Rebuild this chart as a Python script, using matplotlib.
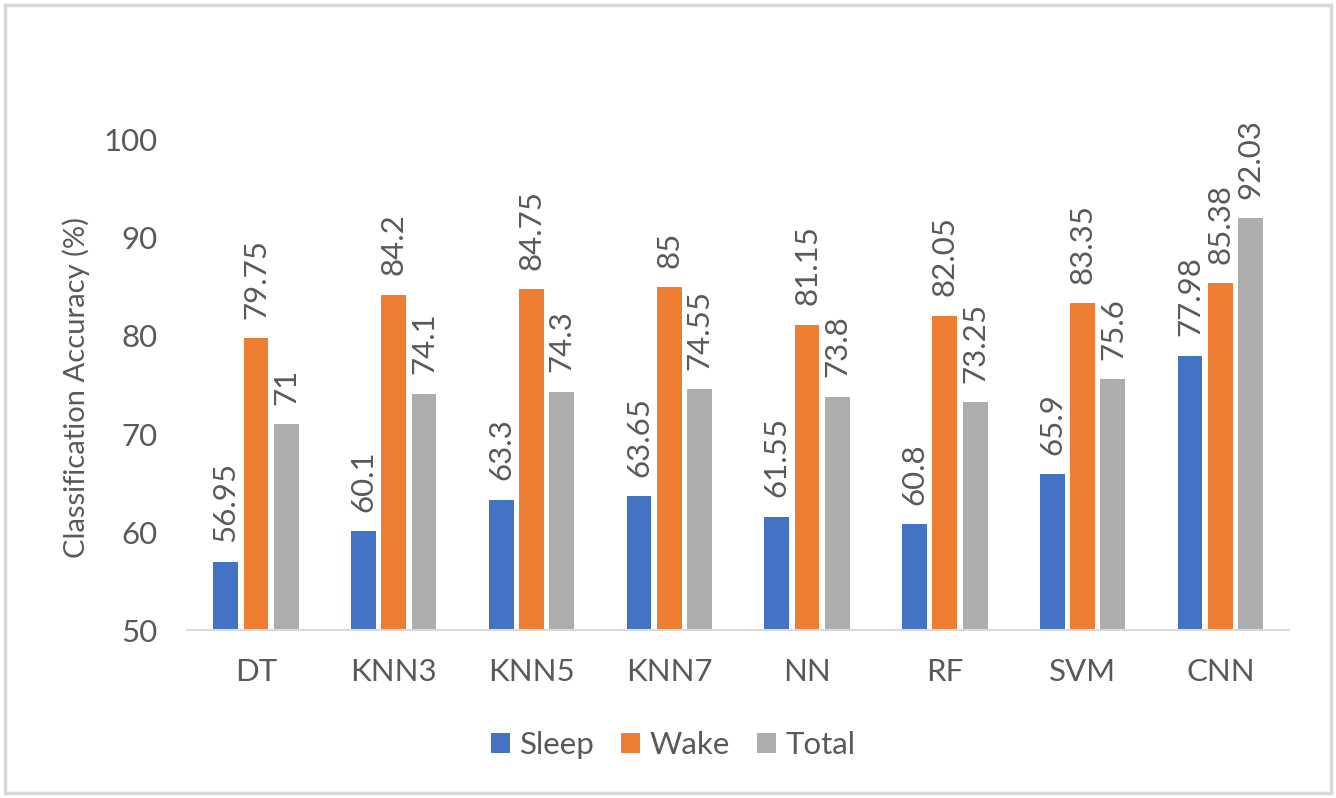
import matplotlib
matplotlib.use("Agg")
import matplotlib.pyplot as plt
import numpy as np
from matplotlib.patches import Rectangle

categories = ["DT", "KNN3", "KNN5", "KNN7", "NN", "RF", "SVM", "CNN"]
sleep = [56.95, 60.1, 63.3, 63.65, 61.55, 60.8, 65.9, 77.98]
wake = [79.75, 84.2, 84.75, 85, 81.15, 82.05, 83.35, 85.38]
total = [71, 74.1, 74.3, 74.55, 73.8, 73.25, 75.6, 92.03]
sleep_lbl = ["56.95", "60.1", "63.3", "63.65", "61.55", "60.8", "65.9", "77.98"]
wake_lbl = ["79.75", "84.2", "84.75", "85", "81.15", "82.05", "83.35", "85.38"]
total_lbl = ["71", "74.1", "74.3", "74.55", "73.8", "73.25", "75.6", "92.03"]
series_names = ["Sleep", "Wake", "Total"]
colors = ["#4472C4", "#ED7D31", "#ADADAD"]

plt.rcParams['font.family'] = ['Lato', 'DejaVu Sans']
txt = "#595959"
fs = 22.5

fig = plt.figure(figsize=(13.36, 7.98), dpi=100)
fig.patches.append(Rectangle((0.004, 0.006), 0.992, 0.988, transform=fig.transFigure,
                             fill=False, edgecolor="#D9D9D9", linewidth=2.5))
ax = fig.add_axes([0.140, 0.2105, 0.825, 0.6141])

x = np.arange(len(categories))
w = 0.18
pitch = 0.22
handles = []
for i, (vals, lbls) in enumerate(zip([sleep, wake, total], [sleep_lbl, wake_lbl, total_lbl])):
    pos = x + (i - 1) * pitch
    bars = ax.bar(pos, np.array(vals) - 50, width=w, bottom=50, color=colors[i], label=series_names[i])
    handles.append(bars)
    for p, v, l in zip(pos, vals, lbls):
        ax.annotate(l, (p, v), xytext=(0, 14), textcoords="offset points", rotation=90,
                    ha="center", va="bottom", fontsize=fs, color=txt, annotation_clip=False)

ax.set_xlim(-0.5, len(categories) - 0.5)
ax.set_ylim(50, 100)
ax.set_yticks([50, 60, 70, 80, 90, 100])
ax.set_xticks(x)
ax.set_xticklabels(categories)
ax.tick_params(axis="both", length=0, labelsize=fs, colors=txt)
ax.tick_params(axis="x", pad=20)
ax.tick_params(axis="y", pad=21)
for s in ["top", "right", "left"]:
    ax.spines[s].set_visible(False)
ax.spines["bottom"].set_color("#D9D9D9")
ax.spines["bottom"].set_linewidth(1.5)
ax.set_ylabel("Classification Accuracy (%)", fontsize=21, color=txt)
ax.yaxis.set_label_coords(-0.088, 0.495)

leg = fig.legend(handles=handles, labels=series_names, loc="center",
                 bbox_to_anchor=(0.504, 0.066), ncol=3, frameon=False,
                 fontsize=fs, handlelength=0.6, handleheight=0.6, handletextpad=0.32,
                 columnspacing=0.85, labelcolor=txt)

fig.savefig("out.png", dpi=100)
